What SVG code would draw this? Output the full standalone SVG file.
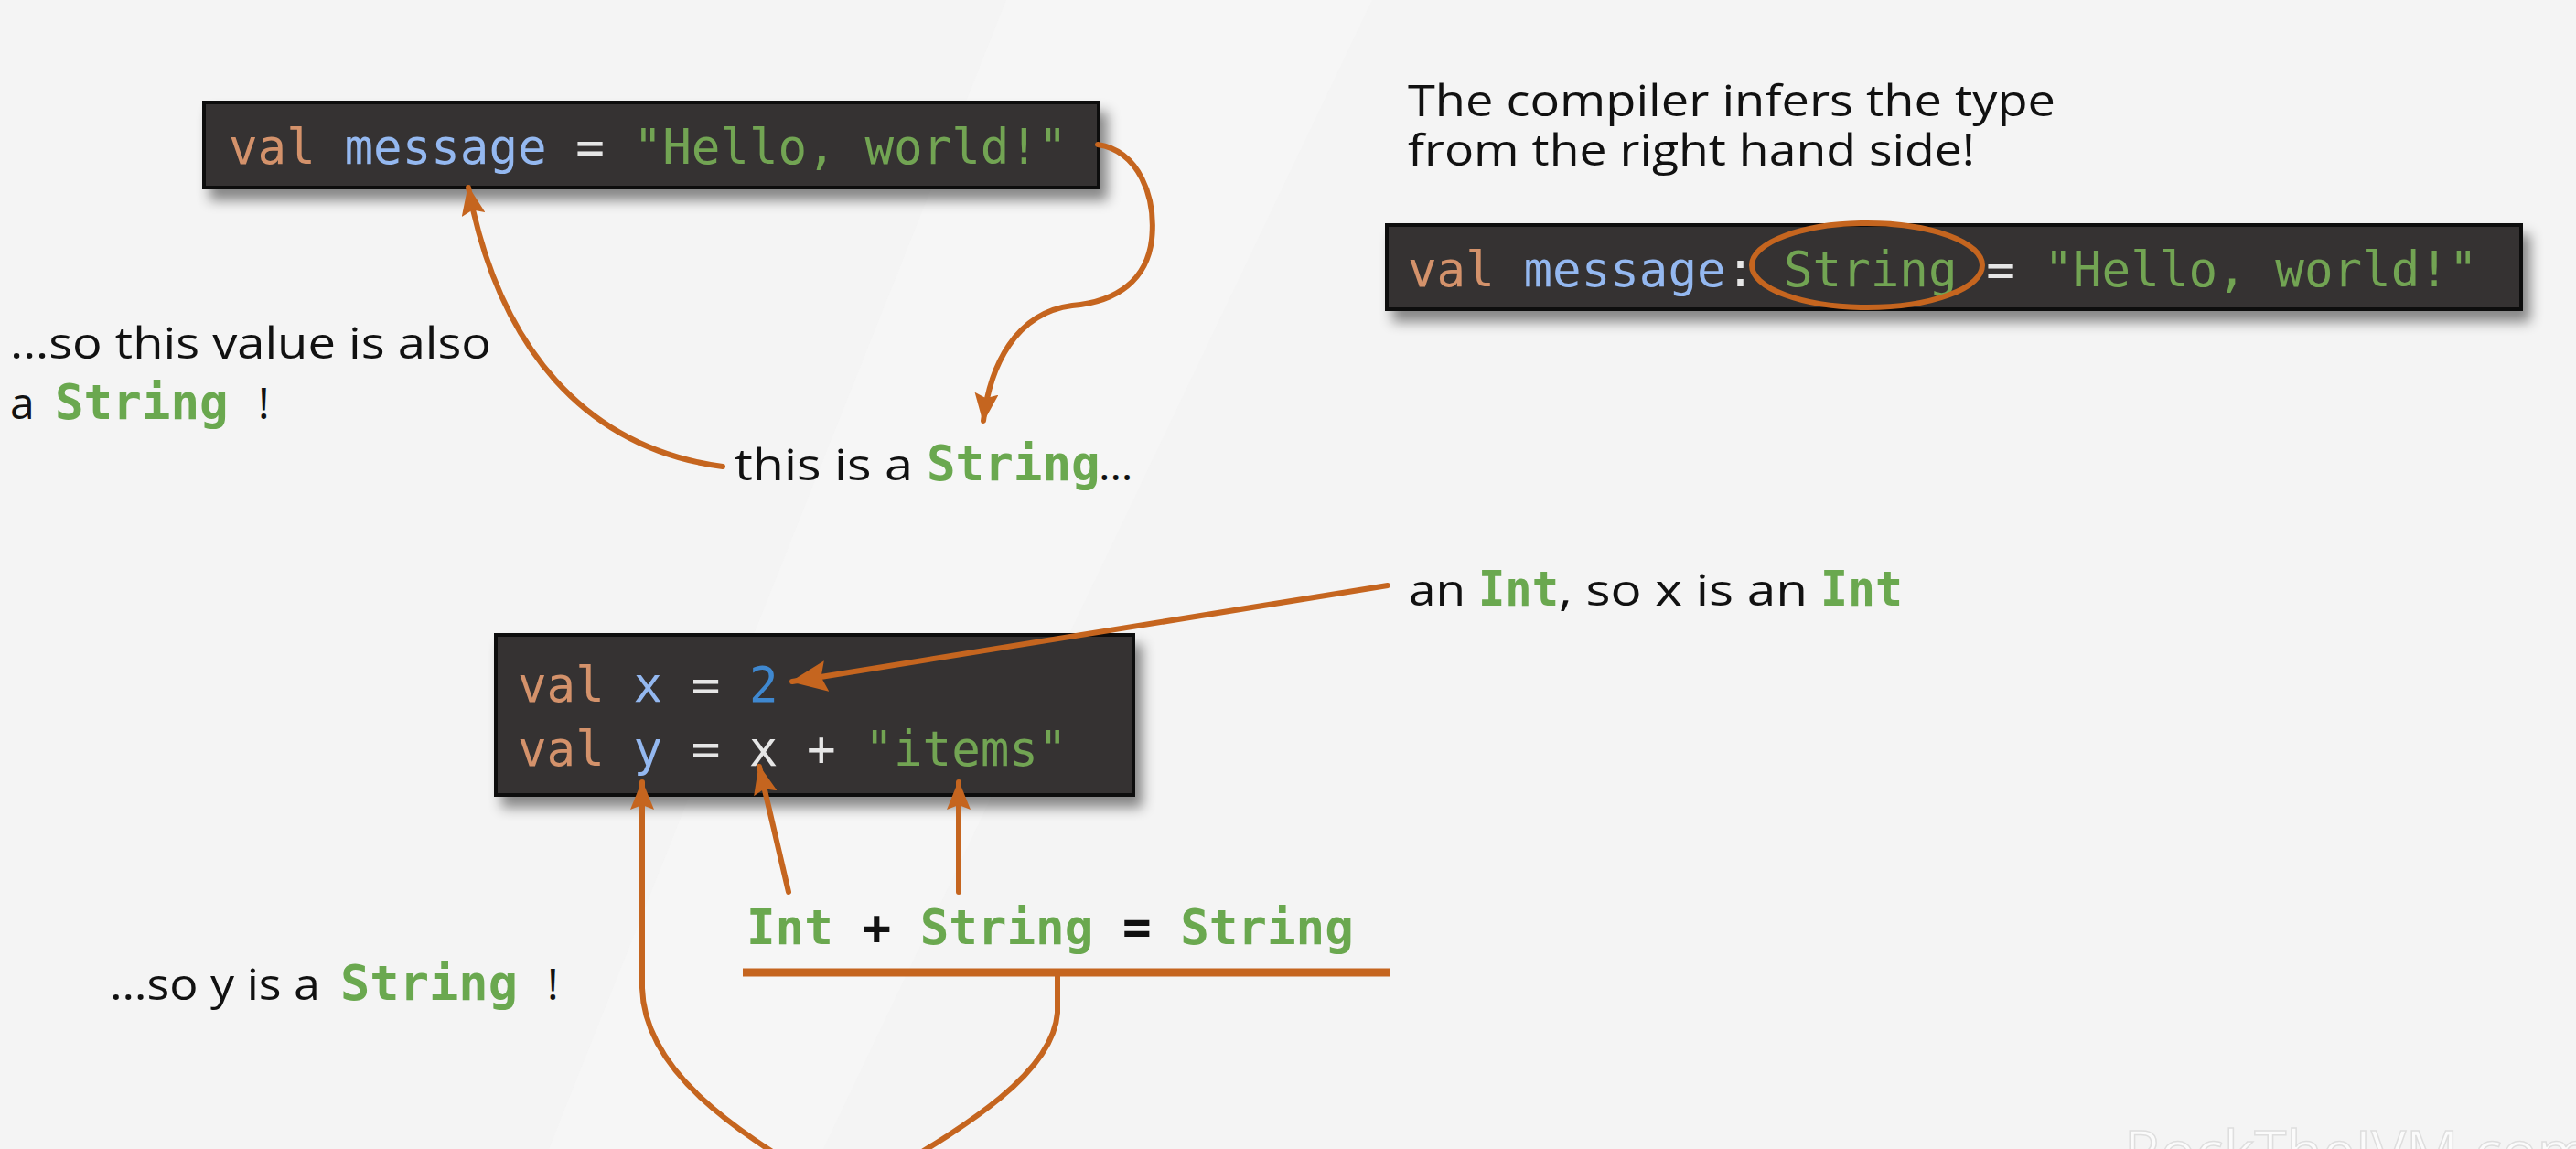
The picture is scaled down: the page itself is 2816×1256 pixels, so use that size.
<svg xmlns="http://www.w3.org/2000/svg" width="2816" height="1256" viewBox="0 0 2816 1256">
<style>
.code{font-family:"DejaVu Sans Mono","Liberation Mono",monospace;font-size:52.5px;}
.b{font-weight:bold;}
.sans{font-family:"Open Sans","Noto Sans",sans-serif;font-size:48px;fill:#111;}
.kw{fill:#d4926b;}
.id{fill:#94b8f0;}
.op{fill:#e6e6e6;}
.str{fill:#72a453;}
.num{fill:#3f88d0;}
.grn{fill:#6aa84f;}
.blk{fill:#111;}
.box{fill:#343233;stroke:#0a0a0a;stroke-width:4;filter:url(#sh);}
.arr{fill:none;stroke:#c5651f;stroke-width:6;stroke-linecap:round;}
</style>
<defs>
<filter id="sh" x="-10%" y="-20%" width="125%" height="160%">
<feDropShadow dx="8" dy="12" stdDeviation="7" flood-color="#000" flood-opacity="0.45"/>
</filter>
<marker id="ah" viewBox="0 0 32 26" refX="30" refY="13" markerWidth="32" markerHeight="26" markerUnits="userSpaceOnUse" orient="auto">
<path d="M0,0 L32,13 L0,26 L5,13 z" fill="#c5651f"/>
</marker>
<marker id="ahb" viewBox="0 0 40 34" refX="38" refY="17" markerWidth="40" markerHeight="34" markerUnits="userSpaceOnUse" orient="auto">
<path d="M0,0 L40,17 L0,34 L6,17 z" fill="#c5651f"/>
</marker>
</defs>
<rect width="2816" height="1256" fill="#f4f4f4"/>
<path d="M1100,0 L1500,0 L900,1256 L600,1256 z" fill="#f7f7f7" opacity="0.6"/>

<g id="code-top">
<rect class="box" x="223" y="112" width="978" height="93"/>
<text class="code" x="250" y="179"><tspan class="kw">val</tspan><tspan class="op"> </tspan><tspan class="id">message</tspan><tspan class="op"> = </tspan><tspan class="str">"Hello, world!"</tspan></text>
</g>

<g id="code-right">
<rect class="box" x="1516" y="246" width="1240" height="92"/>
<text class="code" x="1539" y="313"><tspan class="kw">val</tspan><tspan class="op"> </tspan><tspan class="id">message</tspan><tspan class="op">: </tspan><tspan class="str">String</tspan><tspan class="op"> = </tspan><tspan class="str">"Hello, world!"</tspan></text>
<ellipse cx="2041" cy="290" rx="126" ry="46" fill="none" stroke="#c5651f" stroke-width="6"/>
</g>

<g id="code-xy">
<rect class="box" x="542" y="694" width="697" height="175"/>
<text class="code" x="566" y="767"><tspan class="kw">val</tspan><tspan class="op"> </tspan><tspan class="id">x</tspan><tspan class="op"> = </tspan><tspan class="num">2</tspan></text>
<text class="code" x="566" y="837"><tspan class="kw">val</tspan><tspan class="op"> </tspan><tspan class="id">y</tspan><tspan class="op"> = x + </tspan><tspan class="str">"items"</tspan></text>
</g>

<g id="label-compiler">
<text class="sans" x="1539" y="127" font-size="46" textLength="708" lengthAdjust="spacingAndGlyphs">The compiler infers the type</text>
<text class="sans" x="1539" y="181" font-size="46" textLength="620" lengthAdjust="spacingAndGlyphs">from the right hand side!</text>
</g>

<g id="label-also">
<text class="sans" x="11" y="392" textLength="526" lengthAdjust="spacingAndGlyphs">…so this value is also</text>
<text class="sans" x="11" y="458">a</text>
<text class="code b grn" x="60" y="458">String</text>
<text class="sans" x="282" y="458">!</text>
</g>

<g id="label-this">
<text class="sans" x="803" y="525" textLength="195" lengthAdjust="spacingAndGlyphs">this is a</text>
<text class="code b grn" x="1013" y="525">String</text>
<text class="sans" x="1201" y="525">…</text>
</g>

<g id="label-int">
<text class="sans" x="1540" y="662" textLength="62" lengthAdjust="spacingAndGlyphs">an</text>
<text class="code b grn" x="1616" y="662" textLength="88" lengthAdjust="spacingAndGlyphs">Int</text>
<text class="sans" x="1704" y="662" textLength="272" lengthAdjust="spacingAndGlyphs">, so x is an</text>
<text class="code b grn" x="1990" y="662" textLength="90" lengthAdjust="spacingAndGlyphs">Int</text>
</g>

<g id="label-sum">
<text class="code b" x="816" y="1032"><tspan class="grn">Int</tspan><tspan class="blk"> + </tspan><tspan class="grn">String</tspan><tspan class="blk"> = </tspan><tspan class="grn">String</tspan></text>
</g>

<g id="label-y">
<text class="sans" x="120" y="1093" textLength="230" lengthAdjust="spacingAndGlyphs">…so y is a</text>
<text class="code b grn" x="372" y="1093" textLength="194" lengthAdjust="spacingAndGlyphs">String</text>
<text class="sans" x="598" y="1093">!</text>
</g>

<g id="connectors">
<path class="arr" d="M1200,158 C1245,165 1264,215 1259,262 C1254,305 1222,330 1172,334 C1110,342 1082,400 1075,460" marker-end="url(#ah)"/>
<path class="arr" d="M790,510 C640,490 545,380 512,205" marker-end="url(#ah)"/>
<path class="arr" d="M1517,640 L866,745" stroke-width="9" marker-end="url(#ahb)"/>
<path class="arr" d="M862,975 L830,838" stroke-width="5" marker-end="url(#ah)"/>
<path class="arr" d="M1048,975 L1048,855" stroke-width="5" marker-end="url(#ah)"/>
<line x1="812" y1="1063" x2="1520" y2="1063" stroke="#c5651f" stroke-width="9"/>
<path class="arr" d="M1156,1066 L1156,1107 C1150,1190 1000,1260 925,1310 C850,1260 705,1190 702,1080 L702,855" stroke-width="6" marker-end="url(#ah)"/>
</g>

<text x="2322" y="1282" font-family="Open Sans, sans-serif" font-size="64" fill="#fbfbfb" stroke="#dedede" stroke-width="1.5">RockTheJVM.com</text>
</svg>
